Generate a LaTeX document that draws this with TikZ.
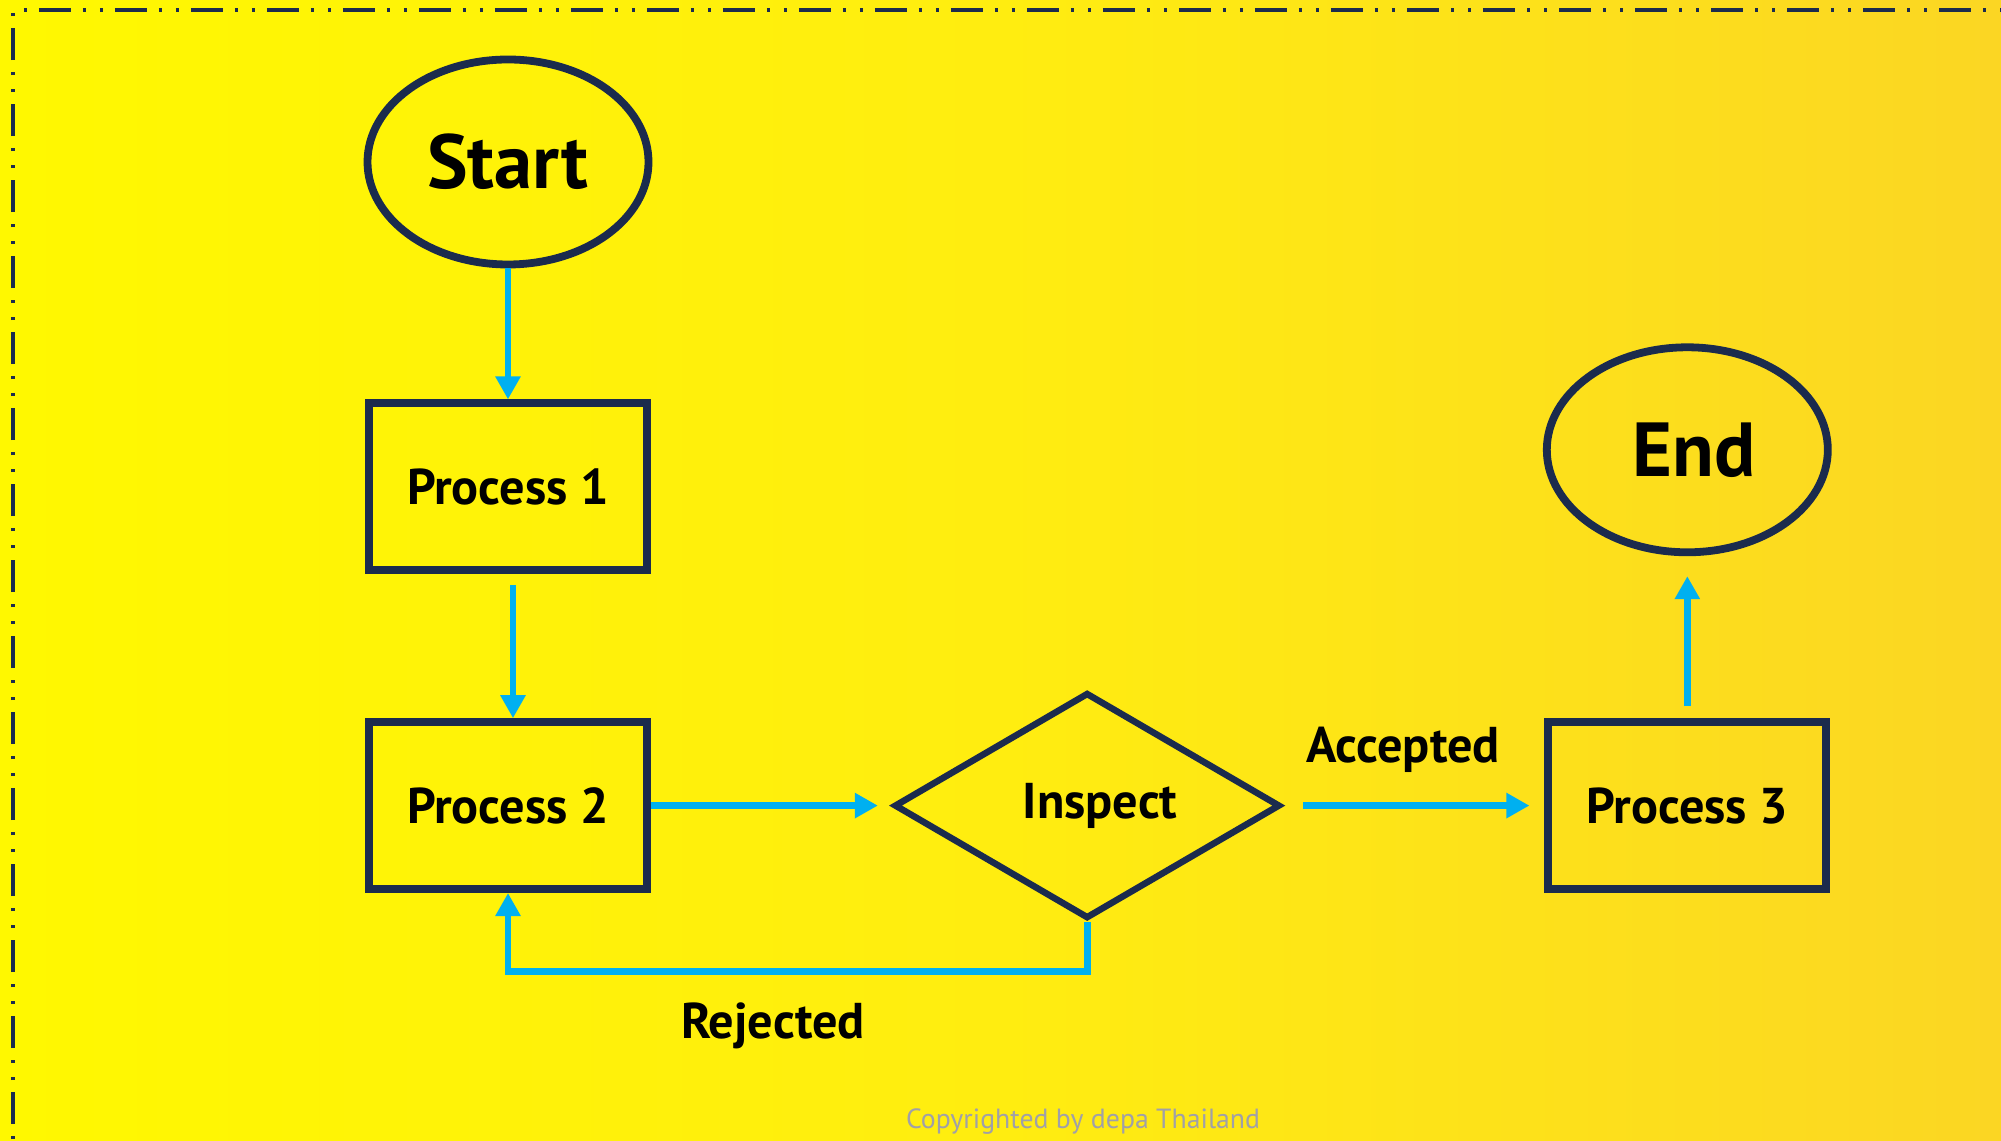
\documentclass[tikz,border=0pt]{standalone}
\usepackage{fontspec}
\setmainfont{PT Sans}
\usetikzlibrary{shapes.geometric, arrows.meta, positioning}
\definecolor{navy}{HTML}{1B2B4D}
\definecolor{flowblue}{HTML}{00B0F0}
\definecolor{bgleft}{RGB}{255,248,0}
\definecolor{bgmid}{RGB}{255,237,16}
\definecolor{bgright}{RGB}{251,214,35}
\definecolor{copygray}{RGB}{160,160,168}

\tikzset{
    terminal/.style={ellipse, draw=navy, line width=0.078cm, minimum width=2.81cm, minimum height=2.05cm, font=\fontsize{21.8}{26}\selectfont\bfseries},
    process/.style={rectangle, draw=navy, line width=0.078cm, minimum width=2.78cm, minimum height=1.67cm, font=\fontsize{14.3}{17}\selectfont\bfseries},
    decision/.style={diamond, draw=navy, line width=0.065cm, minimum width=3.86cm, minimum height=2.22cm, inner sep=0pt, font=\fontsize{14.3}{17}\selectfont\bfseries},
    flow/.style={draw=flowblue, line width=0.068cm, -{Triangle[length=0.23cm, width=0.24cm]}},
    lbl/.style={font=\fontsize{14.3}{17}\selectfont\bfseries},
    border/.style={draw=navy, line width=0.035cm, dash pattern=on 0.32cm off 0.12cm on 0.03cm off 0.14cm on 0.03cm off 0.12cm}
}

\begin{document}
\begin{tikzpicture}
        \useasboundingbox (0,0) rectangle (20.01,-11.41);
        \clip (0,0) rectangle (20.01,-11.41);
        \shade[left color=bgleft, right color=bgright, middle color=bgmid] (0,0) rectangle (20.01,-11.41);
        \draw[border] (0.13,-12) -- (0.13,-0.1) -- (21,-0.1);

        \node[terminal] (start) at (5.08,-1.62) {Start};
        \node[process, below=1.31cm of start] (p1) {Process 1\hspace{0.12cm}};
        \node[process, below=1.44cm of p1] (p2) {Process 2\hspace{0.16cm}};
        \node[decision, right=2.40cm of p2] (inspect) {\hspace{0.26cm}Inspect};
        \node[process, right=2.61cm of inspect] (p3) {Process 3\hspace{0.12cm}};
        \node[terminal, above=1.62cm of p3] (end) {\hspace{0.14cm}End};

        \draw[flow] (start) -- (p1);
        \draw[flow, shorten <=0.11cm] ([xshift=0.05cm]p1.south) -- ([xshift=0.05cm]p2.north);
        \draw[flow, shorten >=0.13cm] (p2) -- (inspect);
        \draw[flow, shorten <=0.2cm, shorten >=0.15cm] (inspect) -- (p3);
        \draw[flow, shorten <=0.12cm, shorten >=0.2cm] (p3) -- (end);
        \draw[flow] (inspect.south) -- ++(0,-0.5) -| (p2.south);

        \node[lbl] (accepted) at (14.03,-7.50) {Accepted};
        \node[lbl] (rejected) at (7.73,-10.26) {Rejected};
        \node[font=\fontsize{7.9}{9}\selectfont, text=copygray] (copyright) at (10.83,-11.22) {Copyrighted by depa Thailand};
\end{tikzpicture}
\end{document}
